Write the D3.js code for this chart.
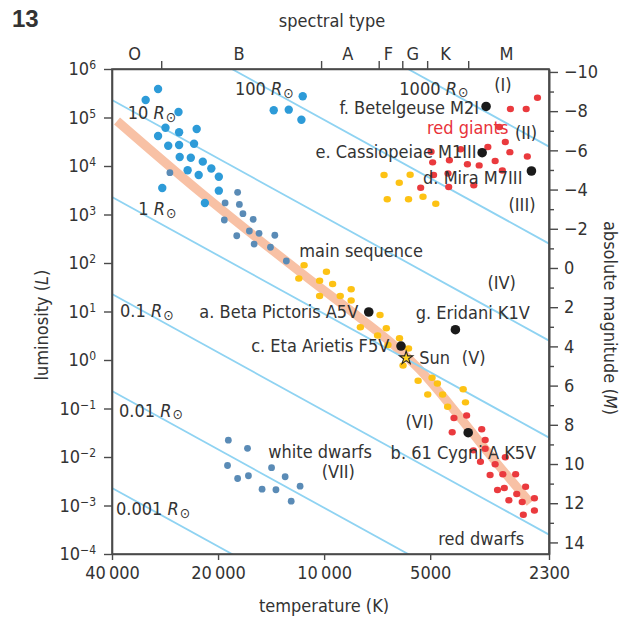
<!DOCTYPE html>
<html><head><meta charset="utf-8">
<script src="https://cdn.jsdelivr.net/npm/d3@7"></script>
<style>
body{margin:0;background:#fff;}
svg text{font-family:"DejaVu Sans Condensed","DejaVu Sans",sans-serif;font-stretch:condensed;fill:#333;font-size:18px;}
</style></head><body>
<svg id="chart" width="627" height="621"></svg>
<script>
// ---------- DATA ----------
const spectralClasses = ["O","B","A","F","G","K","M"];
const spectralBounds = [29000, 10200, 7000, 6000, 5100, 3900];
const tempTicks = [40000, 20000, 10000, 5000, 2300];
const tempTickLabels = ["40\u2009000", "20\u2009000", "10\u2009000", "5000", "2300"];
const lumExponents = [6,5,4,3,2,1,0,-1,-2,-3,-4];
const magMajor = [-10,-8,-6,-4,-2,0,2,4,6,8,10,12,14];
const magMinor = [-9,-7,-5,-3,-1,1,3,5,7,9,11,13];
const radii = [0.001, 0.01, 0.1, 1, 10, 100, 1000];
const radiusLabels = ["0.001", "0.01", "0.1", "1", "10", "100", "1000"];

// main sequence band (temperature K, luminosity Lsun)
const msTemp = [38700, 22500, 11700, 7910, 6290, 5340, 4390, 3380, 2600];
const msLum  = [84700, 2910, 65.2, 7.35, 1.94, 0.622, 0.118, 0.011, 0.00113];

// star groups: [temperature K, luminosity Lsun]
const blueStars = [[29600,387000],[32100,230000],[25900,130000],[28200,61600],[25800,49500],[23000,57900],
  [29600,41500],[27700,26200],[25800,27100],[23400,28800],[25700,15300],[23900,14800],[22100,12300],
  [24400,8150],[22700,6520],[20900,8880],[19900,6020],[19900,3100],[28800,3520],[21800,1730],
  [11500,274000],[13900,141000],[12600,145000],[11600,90000]];
const steelStars = [[27400,7280],[17600,2870],[19100,1730],[17400,1610],[17000,1040],[19200,770],
  [15900,796],[16300,457],[15300,410],[13800,373],[17700,365],[15800,246],[14200,211],[12800,110]];
const yellowStars = [[11400,89.6],[9850,65.8],[11800,47.9],[10300,43.2],[9460,36.9],[8380,28.8],
  [10300,20.9],[9000,20.9],[8380,16.9],[6940,8.47],[7890,4.72],[6660,4.5],[7050,3.2],[6110,2.8],
  [5760,1.73],[5970,0.77],[5410,0.374],[4940,0.431],[4770,0.328],[5080,0.194],[4610,0.194],
  [4030,0.249],[4460,0.109],[3970,0.134],[6590,2.04],
  [6760,6520],[6120,4530],[5700,6620],[6620,2060],[5760,2060],[5240,2330],[4820,1670]];
const redGiants = [[2480,256000],[2960,150000],[2670,150000],[3180,63700],[3060,31300],[3430,24600],
  [4970,19700],[4100,22100],[2970,19300],[2650,15700],[4410,13100],[4920,11900],[3920,10900],
  [3630,10300],[3270,12700],[3120,8080],[4890,6520],[4450,7000],[3760,4000],[4430,3690],[5320,3570]];
const redDwarfs = [[4280,0.0637],[3940,0.0717],[4330,0.0324],[3570,0.0374],[3490,0.0224],[3490,0.0148],
  [3770,0.0137],[3600,0.00796],[3270,0.00707],[3060,0.00985],[3380,0.00426],[3110,0.0044],
  [2860,0.0044],[2680,0.00243],[3220,0.00209],[3080,0.0023],[2840,0.00173],[2990,0.00128],
  [2740,0.00118],[2530,0.00141],[2720,0.000646],[2530,0.000788]];
const whiteDwarfs = [[18700,0.0222],[16500,0.0151],[18800,0.00668],[17600,0.0036],[16400,0.00411],
  [14100,0.00601],[12900,0.00392],[15000,0.00217],[13700,0.00211],[11700,0.0025],[12400,0.00123]];
const namedStars = ["f. Betelgeuse M2I","e. Cassiopeiae M1III","d. Mira M7III","a. Beta Pictoris A5V",
  "c. Eta Arietis F5V","g. Eridani K1V","b. 61 Cygni A K5V"];
const namedTemp = [3470, 3560, 2580, 7470, 6050, 4240, 3900];
const namedLum  = [169000, 18800, 7890, 9.76, 1.94, 4.21, 0.0317];
const sun = [5850, 1.1];
const T_SUN = 5778;

// ---------- LAYOUT ----------
const plot = {left:112, right:549, top:69, bottom:554};
const magDomain = [-10.15, 14.59];
const namedLayout = [
  {dx:-7, dy:7.5, anchor:"end"}, {dx:-5.5, dy:5.7, anchor:"end"}, {dx:-9, dy:13, anchor:"end"},
  {dx:-10.5, dy:5.8, anchor:"end"}, {dx:-11.7, dy:5.7, anchor:"end"},
  {dx:-39.6, dy:-10.4, anchor:"start"}, {dx:-77.6, dy:26.6, anchor:"start"}];
const radiusLabelPos = [[116,515],[119,416.7],[120,317.3],[138.3,215],[127.7,119],[235,95],[399.3,94.5]];
const annotations = [
  {t:"main sequence", x:299.3, y:256.7, a:"start"},
  {t:"red giants", x:427, y:134, a:"start", c:"#e8323a"},
  {t:"(I)", x:503, y:91, a:"middle"},
  {t:"(II)", x:526, y:139, a:"middle"},
  {t:"(III)", x:522, y:211, a:"middle"},
  {t:"(IV)", x:501.7, y:289, a:"middle"},
  {t:"(V)", x:473.7, y:364, a:"middle"},
  {t:"(VI)", x:419.7, y:428, a:"middle"},
  {t:"(VII)", x:338.3, y:478, a:"middle"},
  {t:"white dwarfs", x:268.3, y:458, a:"start"},
  {t:"red dwarfs", x:438.3, y:545, a:"start"},
  {t:"Sun", x:419.3, y:364.3, a:"start"}
];

// ---------- DRAW ----------
const svg = d3.select("#chart");
const x = d3.scaleLog().domain([40000, 2300]).range([plot.left, plot.right]);
const y = d3.scaleLog().domain([1e6, 1e-4]).range([plot.top, plot.bottom]);
const m = d3.scaleLinear().domain(magDomain).range([plot.top, plot.bottom]);
const axisColor = "#4a4a4a";

svg.append("defs").append("clipPath").attr("id","clip").append("rect")
  .attr("x",plot.left).attr("y",plot.top).attr("width",plot.right-plot.left).attr("height",plot.bottom-plot.top);
const g = svg.append("g").attr("clip-path","url(#clip)");

// main sequence band
const line = d3.line().x(d=>x(d[0])).y(d=>y(d[1])).curve(d3.curveCatmullRom.alpha(0.5));
g.append("path").datum(msTemp.map((t,i)=>[t,msLum[i]]))
  .attr("d",line).attr("fill","none").attr("stroke","#f8c1a5").attr("stroke-width",9);

// radius lines
const tEnds = x.domain();
radii.forEach(R=>{
  const pts = tEnds.map(t=>[t, R*R*Math.pow(t/T_SUN,4)]);
  g.append("path").datum(pts).attr("d", d3.line().x(d=>x(d[0])).y(d=>y(d[1])))
    .attr("fill","none").attr("stroke","#8fd3f2").attr("stroke-width",1.8);
});

function dots(data, color, rx, ry){
  g.append("g").selectAll("ellipse").data(data).join("ellipse")
    .attr("cx",d=>x(d[0])).attr("cy",d=>y(d[1])).attr("rx",rx).attr("ry",ry).attr("fill",color);
}
dots(blueStars, "#2d9bd8", 4.2, 4.2);
dots(steelStars, "#5a8bb6", 3.4, 3.4);
dots(whiteDwarfs, "#5a8bb6", 3.4, 3.4);
dots(yellowStars, "#fdc214", 3.7, 3.2);
dots(redGiants, "#ea3a3e", 3.6, 3.2);
dots(redDwarfs, "#ea3a3e", 3.6, 3.2);

// named stars
g.append("g").selectAll("circle").data(namedTemp).join("circle")
  .attr("cx",(d,i)=>x(namedTemp[i])).attr("cy",(d,i)=>y(namedLum[i])).attr("r",4.8).attr("fill","#1a1a1a");
svg.append("path").attr("d", d3.symbol().type(d3.symbolStar).size(55)())
  .attr("transform",`translate(${x(sun[0])},${y(sun[1])})`)
  .attr("fill","#ffd21f").attr("stroke","#222").attr("stroke-width",1.1);

// frame
svg.append("rect").attr("x",plot.left).attr("y",plot.top).attr("width",plot.right-plot.left)
  .attr("height",plot.bottom-plot.top).attr("fill","none").attr("stroke",axisColor).attr("stroke-width",1.6);

// left axis
const lumTicks = lumExponents.map(e=>Math.pow(10,e));
const la = svg.append("g").attr("transform",`translate(${plot.left},0)`)
  .call(d3.axisLeft(y).tickValues(lumTicks).tickSize(8).tickSizeOuter(0).tickPadding(8).tickFormat(""));
la.selectAll(".tick text").each(function(d,i){
  const t = d3.select(this).attr("dy","0.32em");
  const e = Math.round(Math.log10(d));
  t.append("tspan").text("10");
  t.append("tspan").attr("dy","-0.5em").style("font-size","12px").text(e<0 ? "\u2212"+(-e) : String(e));
});
// bottom axis
const ba = svg.append("g").attr("transform",`translate(0,${plot.bottom})`)
  .call(d3.axisBottom(x).tickValues(tempTicks).tickSize(6).tickSizeOuter(0).tickPadding(6)
    .tickFormat((d,i)=>tempTickLabels[i]));
// top axis (spectral type)
const ta = svg.append("g").attr("transform",`translate(0,${plot.top})`)
  .call(d3.axisTop(x).tickValues(spectralBounds).tickSize(8).tickSizeOuter(0).tickFormat(""));
const edges = [40000, ...spectralBounds, 2300];
svg.append("g").selectAll("text").data(spectralClasses).join("text")
  .attr("x",(d,i)=>x(Math.sqrt(edges[i]*edges[i+1]))-2).attr("y",60)
  .attr("text-anchor","middle").text(d=>d);
// right axis (absolute magnitude)
const ra = svg.append("g").attr("transform",`translate(${plot.right},0)`)
  .call(d3.axisRight(m).tickValues(magMajor).tickSize(9).tickSizeOuter(0).tickPadding(6)
    .tickFormat(d=>d<0 ? "\u2212"+(-d) : String(d)));
svg.append("g").attr("transform",`translate(${plot.right},0)`)
  .call(d3.axisRight(m).tickValues(magMinor).tickSize(5).tickSizeOuter(0).tickFormat(""));
svg.selectAll(".domain").attr("stroke",axisColor).attr("stroke-width",1.6);
svg.selectAll(".tick line").attr("stroke",axisColor).attr("stroke-width",1.4);
svg.selectAll(".tick text").attr("fill","#333").attr("font-size",null).attr("font-family",null);
la.selectAll(".tick text").attr("text-anchor","end");

// axis titles
svg.append("text").attr("x",332).attr("y",27).attr("text-anchor","middle").text("spectral type");
svg.append("text").attr("x",324).attr("y",612).attr("text-anchor","middle").text("temperature (K)");
const lt = svg.append("text").attr("transform","translate(48,325) rotate(-90)").attr("text-anchor","middle");
lt.append("tspan").text("luminosity (");
lt.append("tspan").style("font-style","italic").text("L");
lt.append("tspan").text(")");
const rt = svg.append("text").attr("transform","translate(604,318) rotate(90)").attr("text-anchor","middle");
rt.append("tspan").text("absolute magnitude (");
rt.append("tspan").style("font-style","italic").text("M");
rt.append("tspan").text(")");
svg.append("text").attr("x",12).attr("y",27).style("font-family","'Liberation Sans',Arial,sans-serif")
  .style("font-weight","bold").style("font-size","24px").attr("fill","#231f20").text("13");

// radius labels
radii.forEach((R,i)=>{
  const t = svg.append("text").attr("x",radiusLabelPos[i][0]).attr("y",radiusLabelPos[i][1]);
  t.append("tspan").text(radiusLabels[i]+" ");
  t.append("tspan").style("font-style","italic").text("R");
  t.append("tspan").attr("dx","1").attr("dy","2.5").style("font-family","'DejaVu Sans',sans-serif")
    .style("font-size","14px").text("\u2299");
});

// named star labels
namedStars.forEach((n,i)=>{
  const L = namedLayout[i];
  svg.append("text").attr("x",x(namedTemp[i])+L.dx).attr("y",y(namedLum[i])+L.dy)
    .attr("text-anchor",L.anchor).text(n);
});
// annotations
annotations.forEach(a=>{
  svg.append("text").attr("x",a.x).attr("y",a.y).attr("text-anchor",a.a)
    .style("fill",a.c||"#333").text(a.t);
});
</script>
</body></html>
